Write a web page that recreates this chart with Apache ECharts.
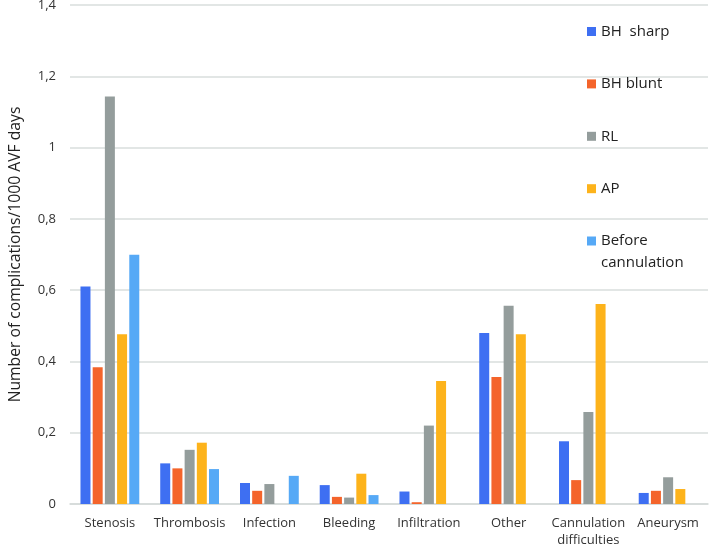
<!DOCTYPE html>
<html>
<head>
<meta charset="utf-8">
<script src="https://cdn.jsdelivr.net/npm/echarts@6/dist/echarts.min.js"></script>
<style>html,body{margin:0;padding:0;background:#fff}#c{width:709px;height:546px}</style>
</head>
<body>
<div id="c"></div>
<script>
const categories = ['Stenosis', 'Thrombosis', 'Infection', 'Bleeding', 'Infiltration', 'Other', 'Cannulation\ndifficulties', 'Aneurysm'];
const seriesNames = ['BH  sharp', 'BH blunt', 'RL', 'AP', 'Before cannulation'];
const bhSharp = [0.61, 0.114, 0.059, 0.053, 0.035, 0.48, 0.176, 0.031];
const bhBlunt = [0.384, 0.100, 0.037, 0.020, 0.005, 0.356, 0.067, 0.037];
const rl = [1.143, 0.152, 0.056, 0.018, 0.22, 0.556, 0.258, 0.075];
const ap = [0.476, 0.172, null, 0.085, 0.345, 0.476, 0.561, 0.042];
const beforeCannulation = [0.699, 0.098, 0.079, 0.025, null, null, null, null];
const yTicks = { min: 0, max: 1.4, interval: 0.2 };

const colors = ['#3E6FF2', '#F4642B', '#949D9C', '#FDB31B', '#56A9F6'];
const values = [bhSharp, bhBlunt, rl, ap, beforeCannulation];
const font = 'Open Sans';

const chart = echarts.init(document.getElementById('c'), null, { renderer: 'canvas' });
chart.setOption({
  animation: false,
  color: colors,
  grid: { left: 70, right: 1, top: 5, bottom: 42, containLabel: false, outerBoundsMode: 'none' },
  legend: [
    {
      data: seriesNames.slice(0, 4),
      orient: 'vertical',
      left: 587, top: 24, padding: 0,
      itemWidth: 9, itemHeight: 9, itemGap: 37.4,
      icon: 'rect',
      textStyle: { fontFamily: font, fontSize: 15, color: '#222' }
    },
    {
      data: ['Before cannulation'],
      orient: 'vertical',
      left: 587, top: 208, padding: 0,
      itemWidth: 9, itemHeight: 9,
      icon: 'rect',
      formatter: n => ' \n' + n.replace(' ', '\n'),
      textStyle: { fontFamily: font, fontSize: 15, color: '#222', lineHeight: 22 }
    }
  ],
  xAxis: {
    type: 'category',
    data: categories,
    axisLine: { lineStyle: { color: '#D3D9D8', width: 1.5 } },
    axisTick: { show: false },
    axisLabel: { fontFamily: font, fontSize: 13, color: '#333', margin: 11, lineHeight: 17, interval: 0 }
  },
  yAxis: {
    type: 'value',
    min: yTicks.min, max: yTicks.max, interval: yTicks.interval,
    name: 'Number of complications/1000 AVF days',
    nameLocation: 'middle',
    nameGap: 46,
    nameTextStyle: { fontFamily: font, fontSize: 15.7, color: '#222' },
    axisLine: { show: false },
    axisTick: { show: false },
    splitLine: { lineStyle: { color: '#D8DEDD', width: 1.5 } },
    axisLabel: {
      fontFamily: font, fontSize: 13, color: '#333', margin: 14,
      formatter: v => String(+v.toFixed(1)).replace('.', ',')
    }
  },
  series: seriesNames.map((n, i) => ({
    name: n,
    type: 'bar',
    data: values[i],
    barWidth: 10,
    barGap: '22%',
    itemStyle: { color: colors[i] }
  }))
});
</script>
</body>
</html>
